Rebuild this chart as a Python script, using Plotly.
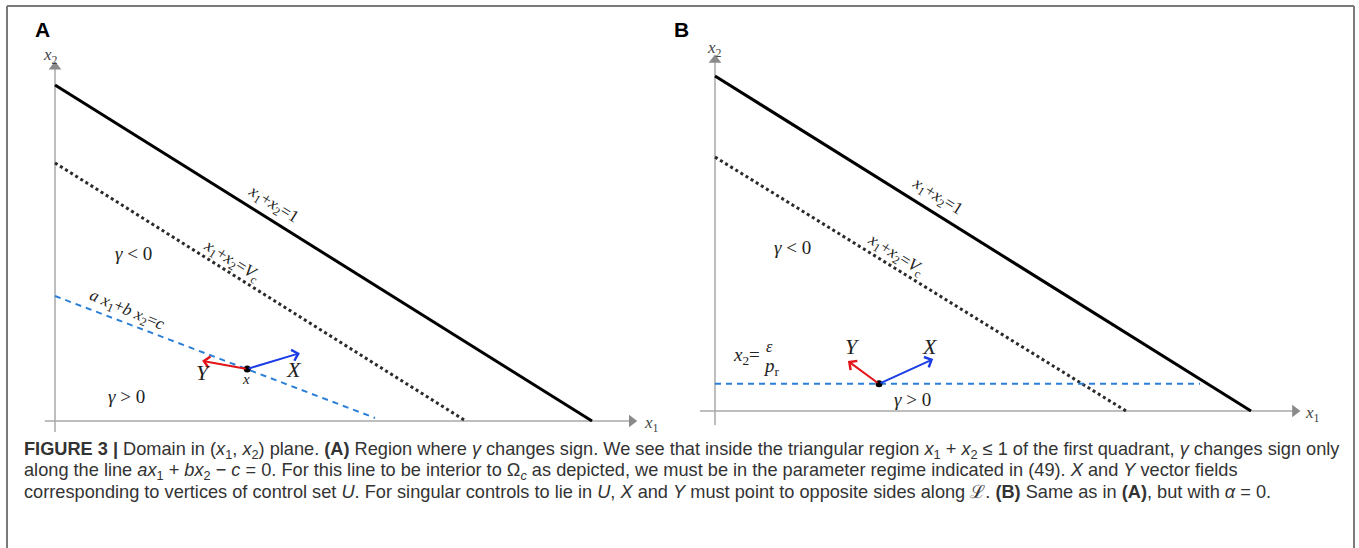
import plotly.graph_objects as go

W, H = 1359, 548

# ---------------- data (schematic values) ----------------
# Panel A
a_solid_x = [0.0, 1.0]
a_solid_y = [1.0, 0.0]
a_vc_x = [0.0, 0.765]
a_vc_y = [0.768, 0.0]
a_sw_x = [0.0, 0.596]          # a x1 + b x2 = c
a_sw_y = [0.372, 0.009]
a_pt = [0.358, 0.155]
a_Xtip = [0.456, 0.202]
a_Ytip = [0.274, 0.179]
a_axis_x = [-0.019, 1.074]
a_axis_y = [-0.033, 1.054]

# Panel B
b_solid_x = [0.0, 1.0]
b_solid_y = [1.0, 0.0]
b_vc_x = [0.0, 0.767]
b_vc_y = [0.758, 0.0]
b_sw_x = [0.0, 0.905]          # x2 = eps / p_r
b_sw_y = [0.081, 0.081]
b_pt = [0.306, 0.081]
b_Xtip = [0.407, 0.155]
b_Ytip = [0.248, 0.149]
b_axis_x = [-0.028, 1.082]
b_axis_y = [-0.042, 1.048]

# ---------------- layout helpers ----------------
A_DOM = [0.0, 0.49]
B_DOM = [0.49, 1.0]
# pixel frames: origin and unit lengths of each panel
A_O, A_U = (55, 421), (537, 336)
B_O, B_U = (715, 411), (536, 335)


def rng(dom, o, u, horizontal=True):
    if horizontal:
        p0, p1 = dom[0] * W, dom[1] * W
        return [(p0 - o[0]) / u[0], (p1 - o[0]) / u[0]]
    return [(o[1] - H) / u[1], o[1] / u[1]]


def px(x, y):
    return x / W, 1 - y / H


fig = go.Figure()

SERIF = "Liberation Serif, DejaVu Serif, serif"
AXC = "#a8a8a8"

for (xa, ya, sx, sy, vx, vy, wx, wy, axx, axy) in [
    ("x", "y", a_solid_x, a_solid_y, a_vc_x, a_vc_y, a_sw_x, a_sw_y, a_axis_x, a_axis_y),
    ("x2", "y2", b_solid_x, b_solid_y, b_vc_x, b_vc_y, b_sw_x, b_sw_y, b_axis_x, b_axis_y),
]:
    # axes
    fig.add_trace(go.Scatter(x=axx, y=[0, 0], mode="lines", line=dict(color=AXC, width=1.5),
                             xaxis=xa, yaxis=ya, hoverinfo="skip"))
    fig.add_trace(go.Scatter(x=[0, 0], y=axy, mode="lines", line=dict(color=AXC, width=1.5),
                             xaxis=xa, yaxis=ya, hoverinfo="skip"))
    fig.add_trace(go.Scatter(x=[axx[1]], y=[0], mode="markers",
                             marker=dict(symbol="triangle-right", size=11, color="#8a8a8a"),
                             xaxis=xa, yaxis=ya, hoverinfo="skip"))
    fig.add_trace(go.Scatter(x=[0], y=[axy[1]], mode="markers",
                             marker=dict(symbol="triangle-up", size=11, color="#8a8a8a"),
                             xaxis=xa, yaxis=ya, hoverinfo="skip"))
    # lines
    fig.add_trace(go.Scatter(x=sx, y=sy, mode="lines", line=dict(color="#000000", width=3),
                             xaxis=xa, yaxis=ya, hoverinfo="skip"))
    fig.add_trace(go.Scatter(x=vx, y=vy, mode="lines", line=dict(color="#2a2a2a", width=3, dash="dot"),
                             xaxis=xa, yaxis=ya, hoverinfo="skip"))
    fig.add_trace(go.Scatter(x=wx, y=wy, mode="lines", line=dict(color="#2b7fd6", width=2, dash="6px,5px"),
                             xaxis=xa, yaxis=ya, hoverinfo="skip"))

# vector arrows
for (xr, yr, pt, Xt, Yt) in [("x", "y", a_pt, a_Xtip, a_Ytip), ("x2", "y2", b_pt, b_Xtip, b_Ytip)]:
    for tip, col in [(Xt, "#1a3de6"), (Yt, "#e3151a")]:
        fig.add_annotation(x=tip[0], y=tip[1], ax=pt[0], ay=pt[1], xref=xr, yref=yr,
                           axref=xr, ayref=yr, text="", showarrow=True, arrowhead=4,
                           arrowsize=1.1, arrowwidth=2, arrowcolor=col)
    fig.add_trace(go.Scatter(x=[pt[0]], y=[pt[1]], mode="markers",
                             marker=dict(color="#000000", size=7), xaxis=xr, yaxis=yr, hoverinfo="skip"))

fig.update_layout(
    width=W, height=H, margin=dict(l=0, r=0, t=0, b=0),
    paper_bgcolor="white", plot_bgcolor="rgba(0,0,0,0)", showlegend=False,
    xaxis=dict(domain=A_DOM, range=rng(A_DOM, A_O, A_U), visible=False, fixedrange=True),
    yaxis=dict(domain=[0, 1], range=rng(None, A_O, A_U, False), visible=False, fixedrange=True),
    xaxis2=dict(domain=B_DOM, range=rng(B_DOM, B_O, B_U), visible=False, fixedrange=True),
    yaxis2=dict(domain=[0, 1], range=rng(None, B_O, B_U, False), visible=False, fixedrange=True,
                anchor="x2"),
)


def label(x, y, text, size=15, angle=0, family=SERIF, color="#222222", xanchor="center"):
    X, Y = px(x, y)
    fig.add_annotation(x=X, y=Y, xref="paper", yref="paper", text=text, showarrow=False,
                       textangle=angle, font=dict(family=family, size=size, color=color),
                       xanchor=xanchor, yanchor="middle")


i = lambda s: f"<i>{s}</i>"

# panel letters
label(42, 30, "<b>A</b>", size=21, family="Liberation Sans, Arial, sans-serif", color="#000")
label(681, 30, "<b>B</b>", size=21, family="Liberation Sans, Arial, sans-serif", color="#000")

# axis labels
label(51, 56, i("x") + "<sub>2</sub>", size=17, color="#444")
label(651, 424, i("x") + "<sub>1</sub>", size=17, color="#444")
label(714, 49, i("x") + "<sub>2</sub>", size=17, color="#444")
label(1312, 414, i("x") + "<sub>1</sub>", size=17, color="#444")

# panel A texts
label(273, 205, i("x") + "<sub>1</sub>+" + i("x") + "<sub>2</sub>=1", size=17, angle=32)
label(231, 261, i("x") + "<sub>1</sub>+" + i("x") + "<sub>2</sub>=" + i("V") + "<sub>c</sub>", size=17, angle=32)
label(127, 311, i("a x") + "<sub>1</sub>+" + i("b x") + "<sub>2</sub>=" + i("c"), size=17, angle=23)
label(133, 254, i("γ") + " &lt; 0", size=19)
label(126, 396, i("γ") + " &gt; 0", size=19)
label(204, 372, i("Y"), size=22)
label(294, 369, i("X"), size=22)
label(246, 379, i("x"), size=15)

# panel B texts
label(937, 197, i("x") + "<sub>1</sub>+" + i("x") + "<sub>2</sub>=1", size=17, angle=32)
label(895, 255, i("x") + "<sub>1</sub>+" + i("x") + "<sub>2</sub>=" + i("V") + "<sub>c</sub>", size=17, angle=32)
label(792, 247, i("γ") + " &lt; 0", size=19)
label(912, 399, i("γ") + " &gt; 0", size=19)
label(852, 346, i("Y"), size=22)
label(930, 346, i("X"), size=22)
label(746, 356, i("x") + "<sub>2</sub>=", size=19)
label(769, 346, i("ε"), size=16)
label(771, 367, i("p") + "<sub>r</sub>", size=19)

# caption
CAP = "Liberation Sans, Arial, sans-serif"
cap_lines = [
    "<b>FIGURE 3 |</b> Domain in (" + i("x") + "<sub>1</sub>, " + i("x") + "<sub>2</sub>) plane. <b>(A)</b> Region where "
    + i("γ") + " changes sign. We see that inside the triangular region " + i("x") + "<sub>1</sub> + "
    + i("x") + "<sub>2</sub> ≤ 1 of the first quadrant, " + i("γ") + " changes sign only",
    "along the line " + i("ax") + "<sub>1</sub> + " + i("bx") + "<sub>2</sub> − " + i("c")
    + " = 0. For this line to be interior to Ω<sub>" + i("c") + "</sub> as depicted, we must be in the parameter regime indicated in (49). "
    + i("X") + " and " + i("Y") + " vector fields",
    "corresponding to vertices of control set " + i("U") + ". For singular controls to lie in " + i("U") + ", "
    + i("X") + " and " + i("Y") + " must point to opposite sides along ℒ. <b>(B)</b> Same as in <b>(A)</b>, but with "
    + i("α") + " = 0.",
]
for k, t in enumerate(cap_lines):
    label(22, 450 + 21 * k, t, size=18.2, family=CAP, color="#333333", xanchor="left")

# frame
for x0, y0, x1, y1 in [(7, 6, 7, 560), (7, 6, 1354, 6), (1354, 6, 1354, 560)]:
    X0, Y0 = px(x0, y0)
    X1, Y1 = px(x1, y1)
    fig.add_shape(type="line", xref="paper", yref="paper", x0=X0, y0=Y0, x1=X1, y1=Y1,
                  line=dict(color="#7a7a7a", width=2))

fig.write_html("out.html", config={"displayModeBar": False},
               post_script="document.body.style.margin='0';")
